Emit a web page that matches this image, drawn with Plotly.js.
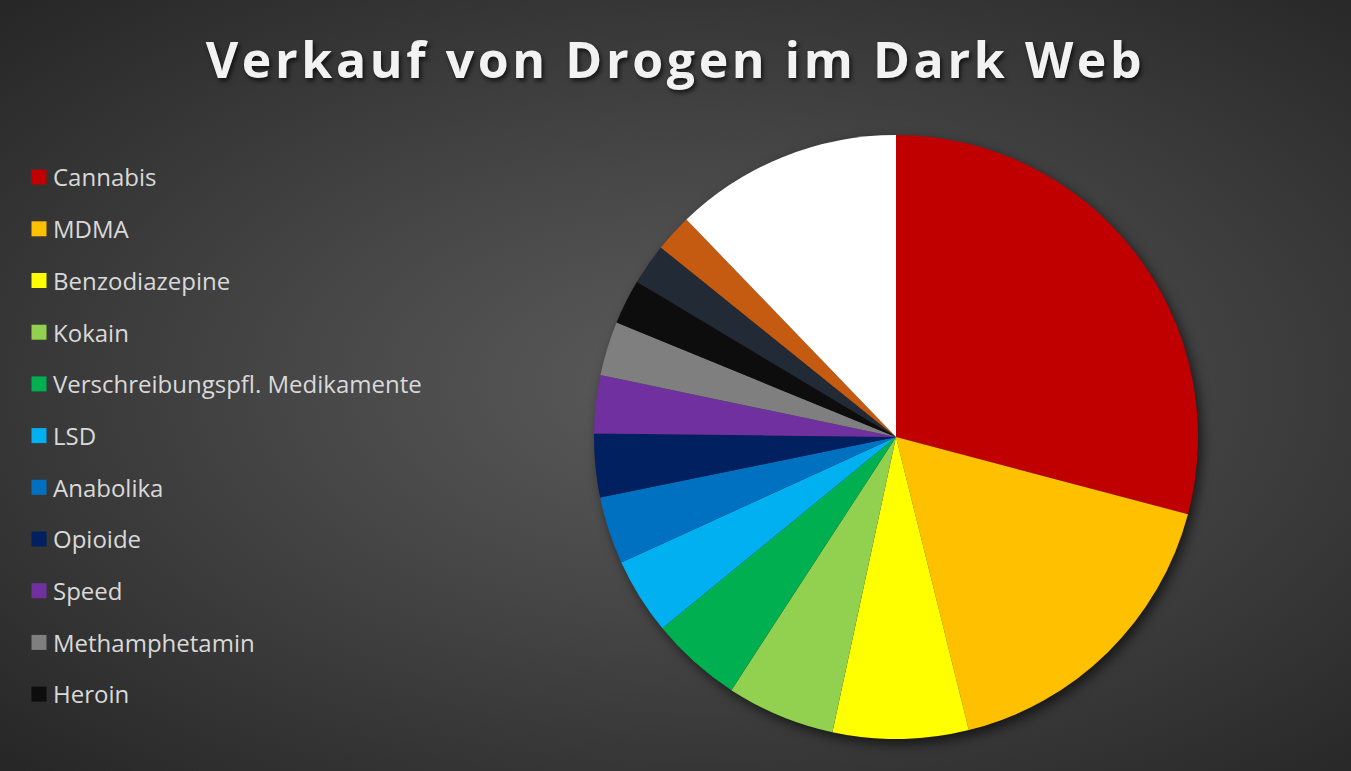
<!DOCTYPE html>
<html>
<head>
<meta charset="utf-8">
<script src="https://cdn.plot.ly/plotly-3.0.1.min.js"></script>
<style>
html,body{margin:0;padding:0;}
#chart{width:1351px;height:771px;background:radial-gradient(ellipse at 52% 50%, #5b5b5b 0%, #474747 40%, #262626 100%);}
#chart .gtitle{filter:drop-shadow(2px 3px 2px rgba(0,0,0,0.65));letter-spacing:3.6px;}
#chart .pielayer .trace:last-child{filter:drop-shadow(4px 5px 6px rgba(0,0,0,0.6));}
</style>
</head>
<body>
<div id="chart"></div>
<script>
var labels = ["Cannabis","MDMA","Benzodiazepine","Kokain","Verschreibungspfl. Medikamente","LSD","Anabolika","Opioide","Speed","Methamphetamin","Heroin","Ketamin","Pilze","Sonstige"];
var values = [29.1,17.0,7.25,5.8,4.9,4.1,3.6,3.4,3.1,2.9,2.4,2.2,2.0,12.2];
var colors = ["#C00000","#FFC000","#FFFF00","#92D050","#00B050","#00B0F0","#0070C0","#002060","#7030A0","#7F7F7F","#0D0D0D","#222A35","#C55A11","#FFFFFF"];
var legendCount = 11;

var W = 1351, H = 771;
var cx = 896, cy = 437, r = 302;
var dom = {x:[(cx-r)/W,(cx+r)/W], y:[(H-cy-r)/H,(H-cy+r)/H]};
var tiny = {x:[(cx-5)/W,(cx+5)/W], y:[(H-cy-5)/H,(H-cy+5)/H]};

var legendTrace = {
  type:'pie', labels:labels.slice(0,legendCount), values:values.slice(0,legendCount),
  marker:{colors:colors.slice(0,legendCount), line:{width:0}},
  sort:false, direction:'clockwise', rotation:0, textinfo:'none', hoverinfo:'skip',
  domain:tiny, showlegend:true
};
var mainTrace = {
  type:'pie', labels:labels, values:values,
  marker:{colors:colors, line:{width:0}},
  sort:false, direction:'clockwise', rotation:0, textinfo:'none',
  hoverinfo:'label+percent',
  domain:dom, showlegend:false
};

var layout = {
  width:W, height:H,
  margin:{l:0,r:0,t:0,b:0},
  paper_bgcolor:'rgba(0,0,0,0)', plot_bgcolor:'rgba(0,0,0,0)',
  title:{text:'Verkauf von Drogen im Dark Web', x:0.5, xanchor:'center', y:1-60/H, yanchor:'middle',
    font:{family:'Open Sans, sans-serif', size:50, color:'#F2F2F2', weight:700}},
  legend:{x:19/W, xanchor:'left', y:1-155/H, yanchor:'top', bgcolor:'rgba(0,0,0,0)',
    font:{family:'Open Sans, sans-serif', size:24, color:'#D9D9D9'}, itemwidth:30},
  showlegend:true
};

function fixLegend(){
  var gd = document.getElementById('chart');
  var sb = gd.querySelector('.legend .scrollbox');
  if(sb) sb.removeAttribute('clip-path');
  var items = gd.querySelectorAll('.legend .traces');
  var y0 = null;
  items.forEach(function(el,i){
    var t = el.getAttribute('transform')||'';
    var m = /translate\(([-\d.]+)[ ,]*([-\d.]+)?\)/.exec(t);
    var x = m ? parseFloat(m[1]) : 0;
    var y = m && m[2] ? parseFloat(m[2]) : 0;
    if(y0===null) y0 = y;
    el.setAttribute('transform','translate('+x+','+(y0+i*51.7)+')');
  });
  gd.querySelectorAll('.legend .legendpoints path').forEach(function(p){
    p.setAttribute('d','M7.5,7.5H-7.5V-7.5H7.5Z');
  });
  gd.querySelectorAll('.legend .legendtext').forEach(function(t){
    t.setAttribute('x', 34);
    t.querySelectorAll('tspan').forEach(function(s){ if(s.getAttribute('x')!==null) s.setAttribute('x',34); });
  });
}

Plotly.newPlot('chart',[legendTrace, mainTrace],layout,{displayModeBar:false}).then(function(gd){
  fixLegend();
  gd.on('plotly_afterplot', fixLegend);
});
</script>
</body>
</html>
